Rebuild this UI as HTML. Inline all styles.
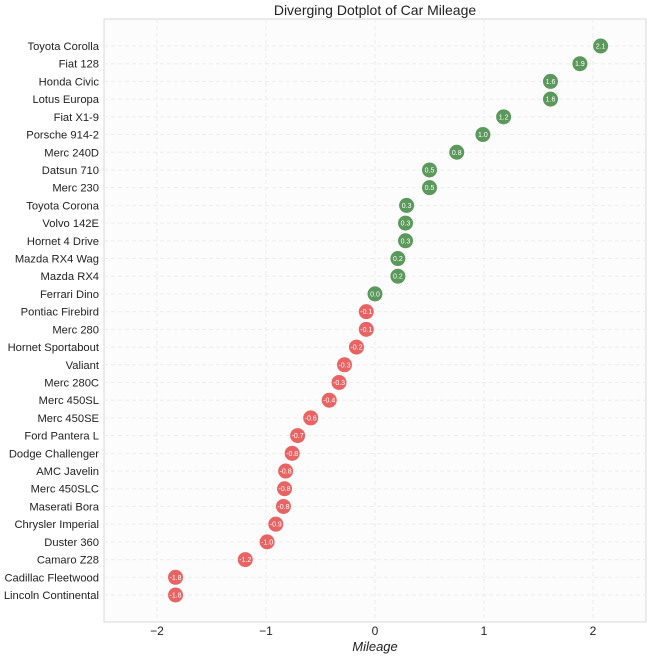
<!DOCTYPE html>
<html><head><meta charset="utf-8"><style>
html,body{margin:0;padding:0;background:#fff;}
svg{display:block;font-family:"Liberation Sans",sans-serif;}
</style></head><body>
<svg id="chart" width="650" height="659"></svg>
<script>
const cars = ["Toyota Corolla","Fiat 128","Honda Civic","Lotus Europa","Fiat X1-9","Porsche 914-2","Merc 240D","Datsun 710","Merc 230","Toyota Corona","Volvo 142E","Hornet 4 Drive","Mazda RX4 Wag","Mazda RX4","Ferrari Dino","Pontiac Firebird","Merc 280","Hornet Sportabout","Valiant","Merc 280C","Merc 450SL","Merc 450SE","Ford Pantera L","Dodge Challenger","AMC Javelin","Merc 450SLC","Maserati Bora","Chrysler Imperial","Duster 360","Camaro Z28","Cadillac Fleetwood","Lincoln Continental"];
const mileageZ = [2.07,1.88,1.61,1.61,1.18,0.99,0.75,0.50,0.50,0.29,0.28,0.28,0.21,0.21,0.00,-0.08,-0.08,-0.17,-0.28,-0.33,-0.42,-0.59,-0.71,-0.76,-0.82,-0.83,-0.84,-0.91,-0.99,-1.19,-1.83,-1.83];
const xTicks = [-2,-1,0,1,2];
const xTickLabels = ["\u22122","\u22121","0","1","2"];

const NS="http://www.w3.org/2000/svg";
const svg=document.getElementById('chart');
const L=104,R=646,T=19,B=622;
const xs=v=>375+v*109;
const ys=i=>46+i*(595-46)/31;
function mk(tag,attrs,parent){const e=document.createElementNS(NS,tag);for(const k in attrs)e.setAttribute(k,attrs[k]);(parent||svg).appendChild(e);return e;}

const bg=mk('rect',{x:L,y:T,width:R-L,height:B-T,fill:'#fcfcfc',stroke:'#d9d9d9','stroke-width':1});



xTicks.forEach((t,i)=>{
  const g=mk('line',{x1:xs(t),x2:xs(t),y1:T,y2:B,stroke:'#ededed','stroke-dasharray':'4,3'});
  
  
  const lb=mk('text',{x:xs(t),y:B+13,'text-anchor':'middle','font-size':12,fill:'#222'});
  lb.textContent=xTickLabels[i];
  
  
});

cars.forEach((c,i)=>{
  const y=ys(i);
  const g=mk('line',{x1:L,x2:R,y1:y,y2:y,stroke:'#ededed','stroke-dasharray':'4,3'});
  
  
  const lb=mk('text',{x:L-5,y:y+4,'text-anchor':'end','font-size':11.2,fill:'#222'});
  lb.textContent=c;
  
  
});

mileageZ.forEach((v,i)=>{
  const y=ys(i),x=xs(v);
  const col=v<0?'#ea6363':'#5b985b';
  const d=mk('circle',{cx:x,cy:y,r:7.5,fill:col});
  
  
  const t=mk('text',{x:x,y:y+2.5,'text-anchor':'middle','font-size':7,fill:'#fff'});
  t.textContent=v.toFixed(1);
  
  
});

const title=mk('text',{x:(L+R)/2,y:15,'text-anchor':'middle','font-size':14,fill:'#222'});
title.textContent='Diverging Dotplot of Car Mileage';


const xt=mk('text',{x:375,y:651,'text-anchor':'middle','font-size':13,'font-style':'italic',fill:'#222'});
xt.textContent='Mileage';


</script>
</body></html>
